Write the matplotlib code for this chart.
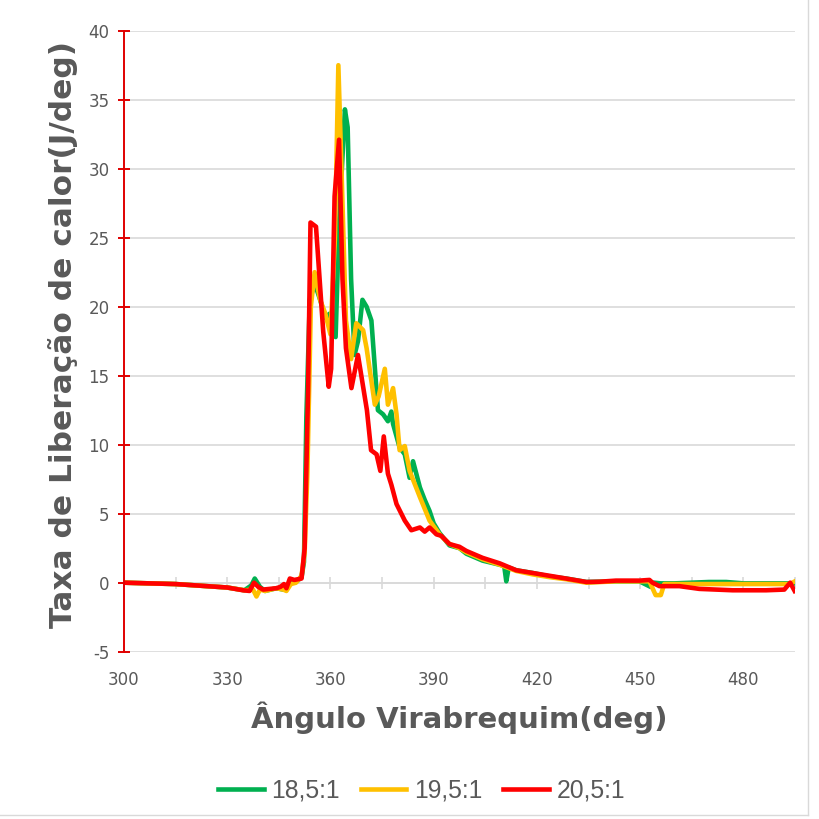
import matplotlib
matplotlib.use('Agg')
import matplotlib.pyplot as plt
from matplotlib.lines import Line2D

plt.rcParams['axes.unicode_minus'] = False

# taxa de liberação de calor para cada razão de compressão
ang_185 = [300, 315, 330, 335, 337, 338, 339.5, 341, 344.3, 346.3, 347.2, 348.5, 350, 351.6,
           352.3, 353, 354, 355.4, 357, 358.5, 359.8, 361.5, 362.5, 364.2, 365, 366, 367, 368,
           369.3, 370.5, 371.9, 373.8, 375.3, 376.7, 377.7, 378.2, 380.1, 381.6, 383, 384, 386,
           387.4, 388.8, 390, 391.7, 394.6, 397.5, 399.5, 404.2, 409.2, 410.5, 411.1, 411.8, 414,
           418.8, 423.7, 428.5, 434.4, 443, 449.8, 453, 454, 456, 460, 470, 475, 480, 490, 495]
taxa_185 = [0, -0.1, -0.35, -0.55, -0.2, 0.3, -0.3, -0.6, -0.4, -0.5, -0.3, 0.1, 0.05, 0.4,
            1.5, 12, 20.5, 21.7, 20.5, 19.2, 19.5, 17.8, 26, 34.3, 33, 22, 16.5, 17.5,
            20.5, 20, 19, 12.5, 12.2, 11.7, 12.4, 11.5, 9.8, 9.3, 7.6, 8.8, 6.9,
            6.0, 5.2, 4.3, 3.6, 2.7, 2.5, 2.1, 1.6, 1.3, 1.2, 0.1, 1.1, 0.9,
            0.7, 0.45, 0.3, 0.05, 0.1, 0.1, -0.3, 0, -0.05, -0.05, 0.05, 0.05, -0.05, -0.05, -0.05]

ang_195 = [300, 315, 330, 335, 337.5, 338.5, 339.5, 341, 344.3, 346.3, 347.2, 348.5, 350, 351.6,
           352.5, 353.3, 354.3, 355.4, 357, 358.5, 360, 361.3, 362.3, 363.2, 364.5, 366, 367.5,
           369.5, 370.5, 372.9, 374, 375.8, 376.7, 378.2, 379.2, 380.1, 381.6, 383, 386, 388.8,
           391.7, 394.6, 397.5, 399.5, 404.2, 409.2, 414, 418.8, 423.7, 428.5, 434.4, 443, 449.8,
           452.7, 454.5, 456, 457, 470, 493.5, 495]
taxa_195 = [0, -0.1, -0.35, -0.55, -0.5, -1.0, -0.5, -0.6, -0.4, -0.5, -0.6, -0.1, 0.0, 0.5,
            2.2, 8, 20, 22.5, 20.5, 19.5, 18, 25, 37.5, 30, 19, 16.2, 18.8,
            18.3, 17, 12.9, 13.5, 15.5, 12.9, 14.1, 12.2, 9.6, 9.9, 8.1, 6.2, 4.5,
            3.5, 2.8, 2.5, 2.2, 1.7, 1.3, 0.85, 0.6, 0.4, 0.25, 0.0, 0.1, 0.1,
            0.1, -0.9, -0.9, -0.1, -0.1, -0.1, 0.1]

ang_205 = [300, 315, 330, 334.6, 336.5, 337.8, 339, 340.4, 344.3, 345.5, 346.5, 347.2, 348.2,
           349.5, 351.6, 352.5, 353.5, 354.2, 355.8, 357.9, 359.5, 360.2, 361.2, 362.5, 363.5,
           364.5, 366.1, 368, 370.6, 371.8, 373.4, 374.5, 375.5, 376.7, 377.7, 379.2, 381.6,
           383.5, 386, 387.4, 388.8, 390.8, 392.2, 394.6, 397.5, 399.5, 404.2, 409.2, 414, 418.8,
           423.7, 428.5, 434.4, 438.2, 443, 449.8, 452.7, 453.6, 455.6, 461.4, 467.2, 476.9,
           486.6, 491.9, 493.6, 494.9]
taxa_205 = [0, -0.1, -0.35, -0.55, -0.6, 0.0, -0.3, -0.5, -0.4, -0.3, -0.1, -0.4, 0.3,
            0.2, 0.3, 2.5, 14, 26.1, 25.8, 18.2, 14.2, 15.5, 28, 32.1, 22,
            17, 14.1, 16.5, 12.5, 9.6, 9.3, 8.1, 10.6, 7.9, 7.1, 5.7, 4.5,
            3.8, 4.0, 3.7, 4.0, 3.5, 3.4, 2.8, 2.6, 2.3, 1.8, 1.4, 0.9, 0.7,
            0.5, 0.3, 0.05, 0.07, 0.15, 0.15, 0.2, 0.0, -0.25, -0.25, -0.45, -0.55,
            -0.55, -0.5, 0.0, -0.6]

nomes = ['18,5:1', '19,5:1', '20,5:1']
cores = ['#00B050', '#FFC000', '#FF0000']

cinza = '#595959'
vermelho = '#E00000'

fig = plt.figure(figsize=(8.2, 8.19), dpi=100)
ax = fig.add_axes([0.1512, 0.2043, 0.8183, 0.7582])

series = [(ang_185, taxa_185), (ang_195, taxa_195), (ang_205, taxa_205)]
for (x, y), nome, cor in zip(series, nomes, cores):
    ax.plot(x, y, color=cor, lw=3.3, label=nome, solid_joinstyle='round')

ax.set_xlim(300, 495)
ax.set_ylim(-5, 40)
ax.set_yticks(range(-5, 41, 5))
ax.set_xticks(range(300, 481, 30))
ax.grid(axis='y', color='#d9d9d9', lw=1.2)
ax.set_axisbelow(True)

for lado in ['top', 'right', 'bottom']:
    ax.spines[lado].set_visible(False)
ax.spines['left'].set_color(vermelho)
ax.spines['left'].set_linewidth(1.4)

ax.tick_params(axis='y', direction='inout', length=8.5, width=1.4, color=vermelho,
               labelcolor=cinza, labelsize=12, pad=6)
ax.tick_params(axis='x', length=0, labelcolor=cinza, labelsize=12, pad=14)

# eixo x passando pelo zero
eixo0 = ax.secondary_xaxis(5 / 45)
eixo0.set_xticks(range(300, 496, 15))
eixo0.tick_params(direction='inout', length=8.5, width=1.2, color='#d9d9d9', labelbottom=False)
eixo0.spines['bottom'].set_color('#d9d9d9')
eixo0.spines['bottom'].set_linewidth(1.2)

# títulos dos eixos
fig.text(0.56, 0.1233, 'Ângulo Virabrequim(deg)', fontsize=21, fontweight='bold', color=cinza,
         ha='center', va='center')
fig.text(0.0765, 0.591, 'Taxa de Liberação de calor(J/deg)', fontsize=22.5, fontweight='bold',
         color=cinza, ha='center', va='center', rotation=90)

leg = fig.legend(loc='center', bbox_to_anchor=(0.514, 0.035), ncol=3, frameon=False,
                 prop={'family': 'Liberation Sans', 'size': 17.8}, handlelength=1.85,
                 handletextpad=0.3, columnspacing=0.85)
for t in leg.get_texts():
    t.set_color(cinza)

# borda do gráfico
fig.add_artist(Line2D([0.985, 0.985], [0.005, 1.0], transform=fig.transFigure, color='#d9d9d9', lw=1))
fig.add_artist(Line2D([0.0, 0.985], [0.005, 0.005], transform=fig.transFigure, color='#d9d9d9', lw=1))

fig.savefig('out.png', dpi=100)
